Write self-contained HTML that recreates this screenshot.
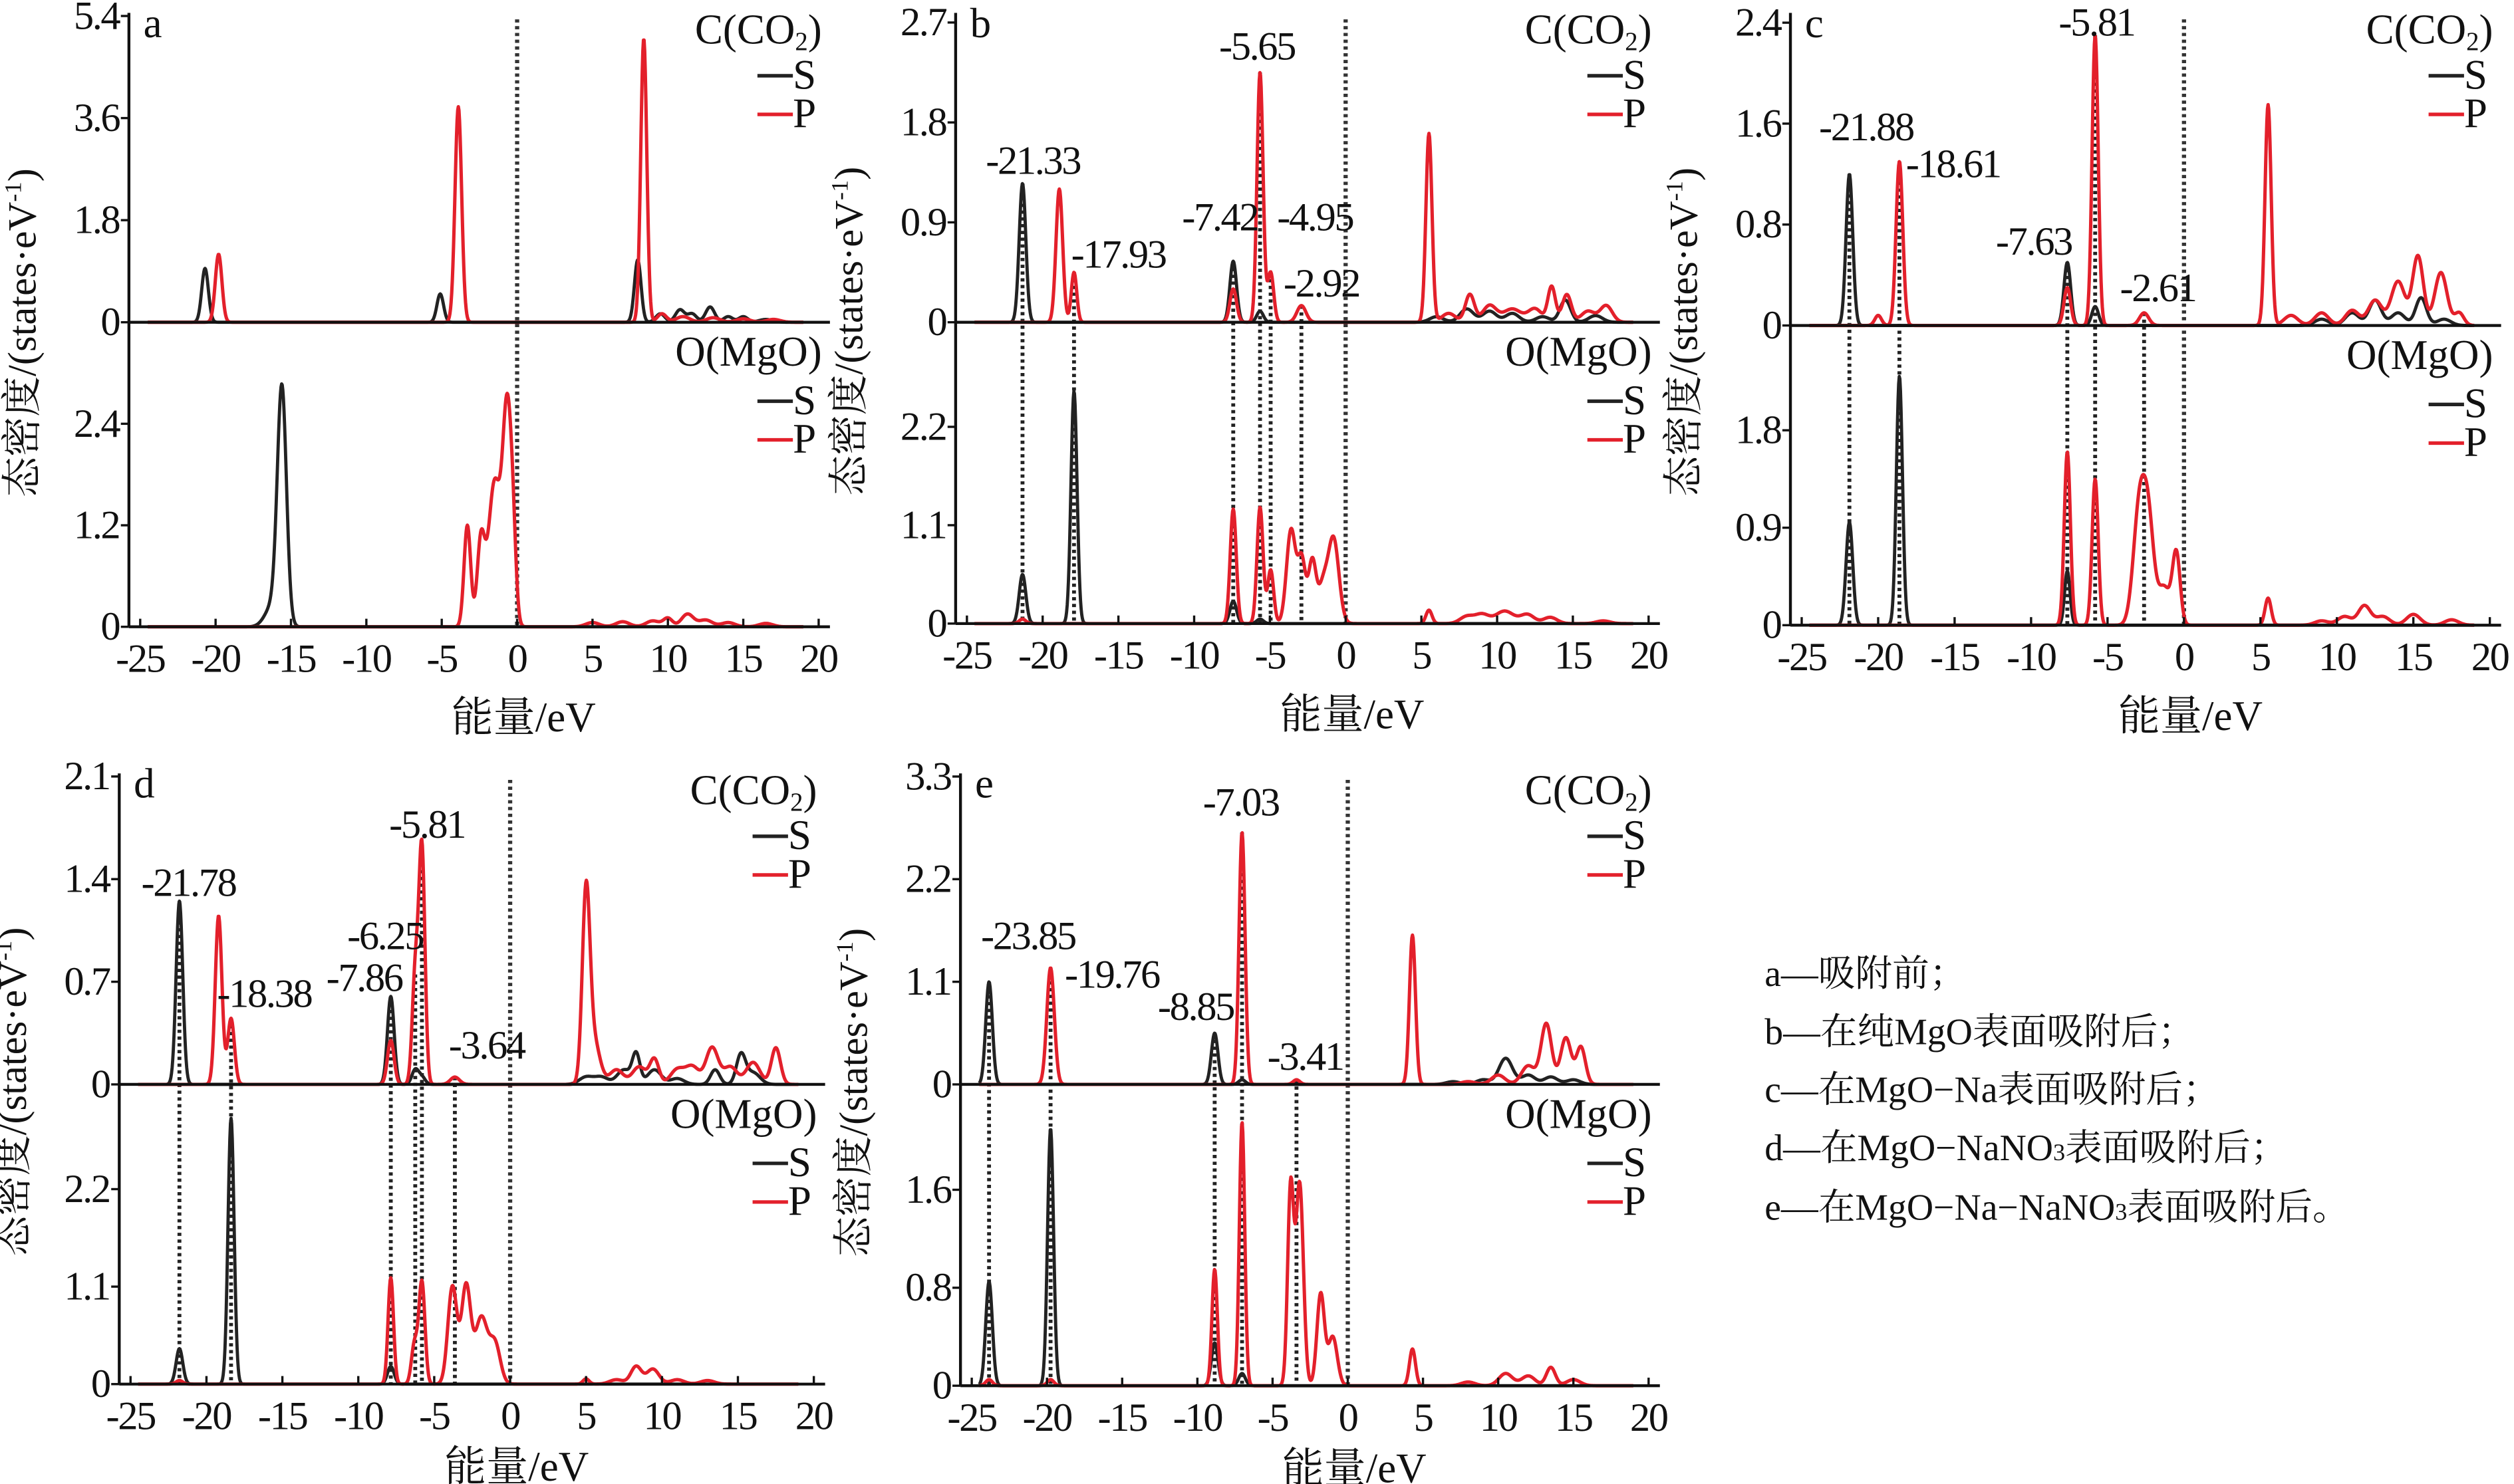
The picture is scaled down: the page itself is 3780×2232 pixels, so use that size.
<!DOCTYPE html>
<html><head><meta charset="utf-8">
<style>
html,body{margin:0;padding:0;background:#fff;}
svg{display:block;}
text{font-family:"Liberation Serif","Noto Serif CJK SC",serif;fill:#111;}
</style></head>
<body>
<svg id="s" width="3780" height="2232" viewBox="0 0 1560 921" preserveAspectRatio="none" xmlns="http://www.w3.org/2000/svg">
<g font-size="23">
<text x="1095" y="612">a—吸附前；</text>
<text x="1095" y="648">b—在纯MgO表面吸附后；</text>
<text x="1095" y="684">c—在MgO−Na表面吸附后；</text>
<text x="1095" y="720">d—在MgO−NaNO<tspan font-size="15">3</tspan>表面吸附后；</text>
<text x="1095" y="757">e—在MgO−Na−NaNO<tspan font-size="15">3</tspan>表面吸附后。</text>
</g>
</svg>
<script>
var S=document.getElementById('s');var NS='http://www.w3.org/2000/svg';
function el(t,a,txt){var e=document.createElementNS(NS,t);for(var k in a)e.setAttribute(k,a[k]);if(txt!==undefined)e.textContent=txt;S.appendChild(e);return e;}
function curve(peaks){var pts=[];for(var E=-24.5;E<=19;E+=0.04){var v=0;for(var i=0;i<peaks.length;i++){var p=peaks[i];var w=p[2]||0.22;v+=p[1]*Math.exp(-0.5*Math.pow((E-p[0])/w,2));}pts.push([E,v]);}return pts;}
function panel(P){
 var X=function(E){return P.xa+(E+25)*(P.xb-P.xa)/45;};
 var Yt=function(v){return P.zt-v*P.st;};var Yb=function(v){return P.zb-v*P.sb;};
 var axX=P.xa-7;
 (P.dots||[]).forEach(function(d){el('line',{x1:X(d[0]),x2:X(d[0]),y1:Yt(d[1]),y2:Yb(0),stroke:'#222','stroke-width':2.4,'stroke-dasharray':'2 2.2'});});
 el('line',{x1:X(0),x2:X(0),y1:P.top+4,y2:P.zb,stroke:'#333','stroke-width':2.6,'stroke-dasharray':'2 2.2'});
 function draw(peaks,Y,col,w){var pts=curve(peaks);var d='';pts.forEach(function(p,i){d+=(i?'L':'M')+X(p[0]).toFixed(2)+' '+Y(p[1]).toFixed(2);});el('path',{d:d,fill:'none',stroke:col,'stroke-width':w,'stroke-linejoin':'round'});}
 draw(P.ts,Yt,'#222',2.0);draw(P.tp,Yt,'#e3202b',2.1);
 draw(P.bs,Yb,'#222',2.0);draw(P.bp,Yb,'#e3202b',2.1);
 el('line',{x1:axX,x2:axX,y1:P.top,y2:P.zb,stroke:'#111','stroke-width':1.8});
 el('line',{x1:axX,x2:P.xb+7,y1:P.zt,y2:P.zt,stroke:'#111','stroke-width':1.8});
 el('line',{x1:axX,x2:P.xb+7,y1:P.zb,y2:P.zb,stroke:'#111','stroke-width':1.8});
 for(var E=-25;E<=20;E+=5){var x=X(E);el('line',{x1:x,x2:x,y1:P.zb,y2:P.zb-5,stroke:'#111','stroke-width':1.4});
  el('text',{x:x,y:P.zb+28,'font-size':25,'text-anchor':'middle','letter-spacing':'-1'},E);}
 P.tt.forEach(function(v){var y=Yt(v);el('line',{x1:axX,x2:axX-5,y1:y,y2:y,stroke:'#111','stroke-width':1.4});el('text',{x:axX-6,y:y+8,'font-size':25,'text-anchor':'end','letter-spacing':'-1'},v===0?'0':v.toFixed(1));});
 P.bt.forEach(function(v){var y=Yb(v);el('line',{x1:axX,x2:axX-5,y1:y,y2:y,stroke:'#111','stroke-width':1.4});el('text',{x:axX-6,y:y+8,'font-size':25,'text-anchor':'end','letter-spacing':'-1'},v===0?'0':v.toFixed(1));});
 el('text',{x:axX+9,y:P.top+15,'font-size':26},P.L);
 el('text',{x:X(0)+4,y:P.zb+P.xl,'font-size':26,'text-anchor':'middle'},'能量/eV');
 var t=el('text',{x:0,y:0,'font-size':25,'text-anchor':'middle',transform:'translate('+(axX-58)+','+((P.top+P.zb)/2+8)+') rotate(-90)'});
 t.innerHTML='态密度/(states·eV<tspan font-size="15" dy="-9">-1</tspan><tspan dy="9">)</tspan>';
 var rx=P.xb+2;
 var c=el('text',{x:rx,y:P.top+19,'font-size':26,'text-anchor':'end'});c.innerHTML='C(CO<tspan font-size="16" dy="4">2</tspan><tspan dy="-4">)</tspan>';
 function leg(y){el('line',{x1:rx-40,x2:rx-18,y1:y-8,y2:y-8,stroke:'#222','stroke-width':2.2});el('text',{x:rx-18,y:y,'font-size':26},'S');
  el('line',{x1:rx-40,x2:rx-18,y1:y+16,y2:y+16,stroke:'#e3202b','stroke-width':2.2});el('text',{x:rx-18,y:y+24,'font-size':26},'P');}
 leg(P.top+47);
 el('text',{x:rx,y:P.zt+27,'font-size':26,'text-anchor':'end'},'O(MgO)');
 leg(P.zt+57);
 (P.labs||[]).forEach(function(l){el('text',{x:l[0],y:l[1],'font-size':25,'text-anchor':'middle','letter-spacing':'-1'},l[2]);});
}
function br(a){return a.map(function(p){return [p[0],p[1],p[2]||0.45];});}
panel({L:'a',xa:87,xb:508,top:8,zt:200,st:35.2,zb:389,sb:52.5,xl:65,tt:[0,1.8,3.6,5.4],bt:[0,1.2,2.4],
 ts:[[-20.7,0.95],[-5.1,0.5],[8.0,1.1]].concat(br([[9.5,0.15,0.3],[10.8,0.22,0.3],[11.6,0.15,0.3],[12.8,0.27,0.3],[14,0.1,0.3],[15,0.1,0.3],[16.5,0.05]])),
 tp:[[-19.8,1.2],[-3.9,3.8],[8.4,5.0,0.2]].concat(br([[9.6,0.15,0.3],[11,0.1],[13,0.08],[15,0.06],[17,0.05]])),
 bs:[[-15.6,2.75,0.3],[-16.2,0.25,0.5]],
 bp:[[-3.3,1.2,0.22],[-2.4,1.0,0.25],[-1.5,1.7,0.4],[-0.65,2.5,0.3],[-0.25,0.6,0.2]].concat(br([[5,0.05],[7,0.06],[9,0.07],[10,0.1,0.3],[11.3,0.15,0.4],[12.5,0.08],[14,0.05],[16.5,0.04]]))});
panel({L:'b',xa:600,xb:1023,top:8,zt:200,st:68.9,zb:387,sb:55.5,xl:65,tt:[0,0.9,1.8,2.7],bt:[0,1.1,2.2],
 dots:[[-21.33,1.25],[-17.93,0.45],[-7.42,0.55],[-5.65,2.25],[-4.95,0.45],[-2.92,0.15]],
 labs:[[641,108,'-21.33'],[694,166,'-17.93'],[757,143,'-7.42'],[780,37,'-5.65'],[816,143,'-4.95'],[820,184,'-2.92']],
 ts:[[-21.33,1.25],[-7.42,0.55],[-5.65,0.1]].concat(br([[6,0.05],[8,0.12],[9.5,0.1],[11,0.08],[13,0.05],[14.5,0.2,0.35],[16.5,0.06]])),
 tp:[[-18.9,1.2],[-17.93,0.45,0.18],[-7.42,0.3],[-5.65,2.25,0.2],[-4.95,0.45,0.2],[-2.92,0.15,0.3],[5.5,1.7,0.2]].concat(br([[6.8,0.08],[8.2,0.25,0.3],[9.5,0.15],[11,0.12,0.6],[12.5,0.12],[13.6,0.32,0.25],[14.6,0.25,0.3],[16,0.1],[17.2,0.15,0.4]])),
 bs:[[-21.33,0.55],[-17.93,2.6,0.2],[-7.42,0.25],[-5.65,0.05]],
 bp:[[-21.33,0.05],[-7.42,1.28,0.2],[-5.65,1.3,0.2],[-4.95,0.6,0.2],[-3.6,1.05,0.3],[-2.9,0.7,0.25],[-2.2,0.7,0.25],[-0.8,0.95,0.35],[-1.5,0.4,0.3],[5.5,0.15,0.2]].concat(br([[8,0.08],[9,0.1],[10.5,0.14,0.6],[12,0.1],[13.5,0.07],[17,0.03]]))});
panel({L:'c',xa:1118,xb:1545,top:8,zt:202,st:78.3,zb:388,sb:67.2,xl:65,tt:[0,0.8,1.6,2.4],bt:[0,0.9,1.8],
 dots:[[-21.88,1.2],[-18.61,1.3],[-7.63,0.5],[-5.81,2.3],[-2.61,0.1]],
 labs:[[1158,87,'-21.88'],[1212,110,'-18.61'],[1262,158,'-7.63'],[1301,22,'-5.81'],[1339,187,'-2.61']],
 ts:[[-21.88,1.2],[-7.63,0.5],[-5.81,0.15]].concat(br([[9,0.05],[11,0.1],[12.5,0.2,0.4],[14,0.1],[15.5,0.22,0.35],[17,0.05]])),
 tp:[[-20,0.08],[-18.61,1.3],[-7.63,0.3],[-5.81,2.3,0.2],[-2.61,0.1,0.3],[5.5,1.75,0.2]].concat(br([[7,0.08],[9,0.1],[11,0.12],[12.5,0.2],[14,0.35],[15.3,0.55,0.35],[16.8,0.42,0.4],[18,0.1,0.3]])),
 bs:[[-21.88,0.95],[-18.61,2.3,0.2],[-7.63,0.5,0.18]],
 bp:[[-7.63,1.6,0.2],[-5.81,1.35,0.2],[-2.9,1.1,0.4],[-2.3,0.8,0.35],[-1.3,0.35,0.4],[-0.5,0.65,0.25],[5.5,0.25,0.2]].concat(br([[9,0.04],[10.5,0.08],[11.8,0.18,0.4],[13,0.08],[15,0.1],[17.5,0.05]]))});
panel({L:'d',xa:81,xb:505,top:480,zt:673,st:91,zb:859,sb:55,xl:60,tt:[0,0.7,1.4,2.1],bt:[0,1.1,2.2],
 dots:[[-21.78,1.25],[-18.38,0.45],[-7.86,0.6],[-6.25,0.75],[-5.81,1.6],[-3.64,0.05]],
 labs:[[117,556,'-21.78'],[164,625,'-18.38'],[226,615,'-7.86'],[239,589,'-6.25'],[265,520,'-5.81'],[302,657,'-3.64']],
 ts:[[-21.78,1.25],[-7.86,0.6],[-6.25,0.1],[-5.81,0.05]].concat(br([[5,0.05],[6,0.05],[7.5,0.1],[8.3,0.2,0.25],[9.5,0.1],[11,0.04],[13.5,0.1,0.3],[15.2,0.2,0.3],[16,0.08]])),
 tp:[[-19.2,1.15],[-18.38,0.45],[-7.86,0.3],[-6.25,0.75,0.2],[-5.81,1.6,0.2],[-3.64,0.05,0.3],[5.0,1.25,0.25],[5.5,0.3,0.4]].concat(br([[7,0.1],[8.5,0.12],[9.5,0.17,0.3],[11,0.1],[12,0.12],[13.3,0.25,0.4],[14.5,0.12],[16,0.15],[17.5,0.25,0.3]])),
 bs:[[-21.78,0.4],[-18.38,3.0,0.2],[-7.86,0.2]],
 bp:[[-21.78,0.04],[-7.86,1.2,0.18],[-6.3,0.45,0.2],[-5.81,1.15,0.2],[-3.8,1.1,0.3],[-2.9,1.1,0.3],[-1.9,0.75,0.4],[-1.0,0.45,0.35],[5,0.06,0.2]].concat(br([[7,0.05],[8.3,0.2,0.35],[9.4,0.17,0.4],[11,0.05],[13,0.04]]))});
panel({L:'e',xa:603,xb:1023,top:480,zt:673,st:57.9,zb:860,sb:76,xl:60,tt:[0,1.1,2.2,3.3],bt:[0,0.8,1.6],
 dots:[[-23.85,1.1],[-19.76,1.25],[-8.85,0.55],[-7.03,2.7],[-3.41,0.05]],
 labs:[[638,589,'-23.85'],[690,613,'-19.76'],[742,633,'-8.85'],[770,506,'-7.03'],[810,664,'-3.41']],
 ts:[[-23.85,1.1],[-8.85,0.55],[-7.03,0.05]].concat(br([[7,0.03],[9,0.05],[10.5,0.28,0.45],[12,0.1],[13.5,0.08],[15,0.05]])),
 tp:[[-19.76,1.25,0.25],[-7.03,2.7,0.2],[-3.41,0.05],[4.3,1.6,0.2]].concat(br([[8,0.03],[10,0.1],[12,0.2],[13.2,0.65,0.35],[14.5,0.5,0.35],[15.5,0.4,0.3]])),
 bs:[[-23.85,0.85],[-19.76,2.1,0.2],[-8.85,0.35],[-7.03,0.1]],
 bp:[[-23.85,0.05],[-19.76,0.05],[-8.85,0.95,0.18],[-7.03,2.15,0.18],[-3.8,1.6,0.2],[-3.2,1.65,0.25],[-1.8,0.75,0.25],[-1.0,0.4,0.3],[4.3,0.3,0.2]].concat(br([[8,0.03],[10.5,0.1],[12,0.08],[13.5,0.15,0.3],[15,0.05]]))});
</script>
</body></html>
